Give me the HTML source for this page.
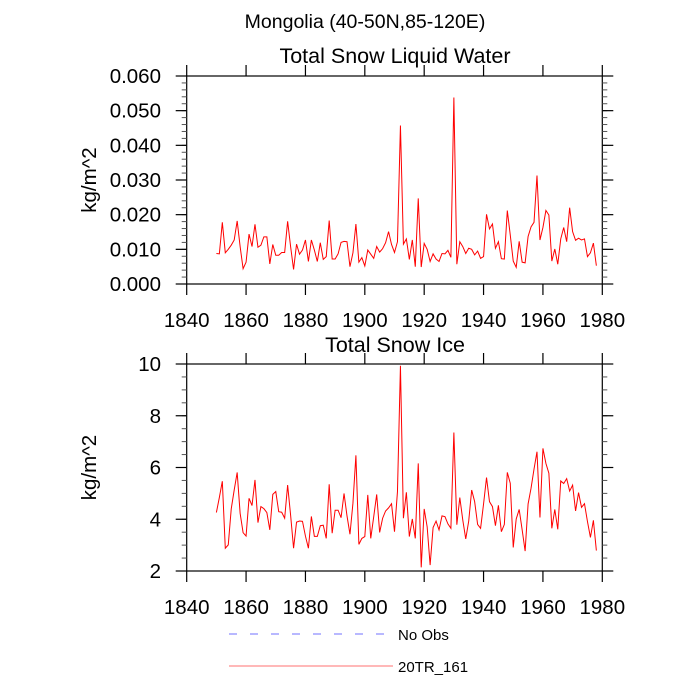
<!DOCTYPE html>
<html><head><meta charset="utf-8"><style>
html,body{margin:0;padding:0;background:#fff;}
svg{display:block;font-family:"Liberation Sans",sans-serif;}
</style></head><body>
<svg id="chart" width="700" height="700" viewBox="0 0 700 700">
<text x="365" y="28" font-size="19.5" text-anchor="middle">Mongolia (40-50N,85-120E)</text>
<text x="395" y="63" font-size="21.5" text-anchor="middle">Total Snow Liquid Water</text>
<text x="395" y="352" font-size="21.5" text-anchor="middle">Total Snow Ice</text>
<g>
<line x1="229" y1="634" x2="386" y2="634" stroke="#7070ff" stroke-width="1" stroke-dasharray="8,13"/>
<text x="398" y="640" font-size="15">No Obs</text>
<line x1="229" y1="666" x2="393" y2="666" stroke="#ff7070" stroke-width="1"/>
<text x="398" y="672" font-size="15">20TR_161</text>
</g>
</svg>
<script>
const years = [];
for (let y = 1850; y <= 1978; y++) years.push(y);
const liquidWater = [
.0088,.0087,.0178,.0090,.0100,.0112,.0127,.0182,.0108,.0044,.0063,.0144,.0108,.0172,.0106,.0112,.0136,.0136,.0058,.0114,.0083,.0083,.0091,.0091,.0181,.0108,.0042,.0115,.0086,.0098,.0127,.0065,.0127,.0098,.0065,.0119,.0071,.0079,.0183,.0072,.0072,.0087,.0120,.0123,.0122,.0050,.0090,.0173,.0063,.0076,.0052,.0098,.0086,.0074,.0108,.0092,.0102,.0119,.0151,.0114,.0091,.0122,
.0457,.0115,.0130,.0071,.0127,.0050,.0247,.0049,.0117,.0100,.0065,.0087,.0072,.0065,.0088,.0087,.0097,.0077,.0538,.0057,.0122,.0108,.0088,.0103,.0100,.0084,.0095,.0074,.0079,.0201,.0159,.0173,.0103,.0122,.0073,.0072,.0212,.0141,.0066,.0048,.0123,.0063,.0061,.0137,.0165,.0178,.0313,.0127,.0163,.0212,.0199,.0066,.0101,.0057,.0130,.0163,.0122,.0220,.0151,.0126,.0132,.0127,.0130,.0079,.0090,.0118,.0053];
const snowIce = [
4.26,4.84,5.47,2.88,3.01,4.40,5.13,5.81,4.23,3.48,3.35,4.81,4.53,5.52,3.87,4.49,4.41,4.26,3.59,4.96,5.07,4.29,4.27,4.04,5.32,4.16,2.88,3.89,3.93,3.92,3.35,2.88,4.11,3.34,3.34,3.75,3.77,3.26,5.35,3.46,4.35,4.35,4.06,5.00,4.13,3.42,4.62,6.47,3.03,3.26,3.33,4.94,3.26,4.10,4.96,3.49,4.04,4.32,4.44,4.60,3.52,5.07,
9.93,4.04,5.04,3.33,4.01,3.26,6.16,2.14,4.40,3.71,2.23,3.68,3.93,3.59,4.13,4.10,3.82,3.65,7.35,3.79,4.84,3.97,3.24,3.93,5.13,4.68,3.80,3.65,4.59,5.61,4.68,4.49,3.75,4.54,3.52,3.80,5.81,5.39,2.91,4.01,4.38,3.59,2.77,4.59,5.20,5.94,6.61,4.07,6.74,6.16,5.78,3.65,4.38,3.61,5.48,5.38,5.57,5.09,5.32,4.32,5.03,4.46,4.60,3.91,3.30,3.96,2.79];
const xTicks = [1840,1860,1880,1900,1920,1940,1960,1980];
const topYTicks = [0,0.01,0.02,0.03,0.04,0.05,0.06];
const topYLabels = ["0.000","0.010","0.020","0.030","0.040","0.050","0.060"];
const botYTicks = [2,4,6,8,10];
const botYLabels = ["2","4","6","8","10"];

const NS = "http://www.w3.org/2000/svg";
const svg = document.getElementById("chart");
function mk(tag, attrs, parent) {
  const e = document.createElementNS(NS, tag);
  for (const k in attrs) e.setAttribute(k, attrs[k]);
  (parent || svg).appendChild(e);
  return e;
}
const X0 = 186.7, X1 = 602.3;
function xs(yr) { return X0 + (yr - 1840) / 140 * (X1 - X0); }

function panel(name, top, bot, ymin, ymax, yticks, ylabels, minorStep, series) {
  const g = mk("g", {});
  
  
  const ys = v => bot - (v - ymin) / (ymax - ymin) * (bot - top);
  const frame = mk("rect", {x: X0, y: top, width: X1 - X0, height: bot - top, fill: "none", stroke: "#000", "stroke-width": 1.2}, g);
  
  
  for (let v = ymin; v <= ymax + 1e-9; v += minorStep) {
    const y = ys(v);
    mk("line", {x1: X0 - 5, y1: y, x2: X0, y2: y, stroke: "#555", "stroke-width": 1}, g);
    mk("line", {x1: X1, y1: y, x2: X1 + 5, y2: y, stroke: "#555", "stroke-width": 1}, g);
  }
  yticks.forEach((v, i) => {
    const y = ys(v);
    mk("line", {x1: X0 - 11, y1: y, x2: X0, y2: y, stroke: "#000", "stroke-width": 1.2}, g);
    mk("line", {x1: X1, y1: y, x2: X1 + 11, y2: y, stroke: "#000", "stroke-width": 1.2}, g);
    const t = mk("text", {x: 161, y: y + 7, "font-size": 20.5, "text-anchor": "end"}, g);
    t.textContent = ylabels[i];
    
    
  });
  xTicks.forEach(yr => {
    const x = xs(yr);
    mk("line", {x1: x, y1: top - 11, x2: x, y2: top, stroke: "#000", "stroke-width": 1.2}, g);
    mk("line", {x1: x, y1: bot, x2: x, y2: bot + 11, stroke: "#000", "stroke-width": 1.2}, g);
    const t = mk("text", {x: x, y: bot + 43, "font-size": 20.5, "text-anchor": "middle"}, g);
    t.textContent = yr;
    
    
  });
  const cy = (top + bot) / 2;
  const yt = mk("text", {x: 96, y: cy, "font-size": 20.5, "text-anchor": "middle", transform: "rotate(-90 96 " + cy + ")"}, g);
  yt.textContent = "kg/m^2";
  
  
  const pts = series.map((v, i) => xs(years[i]).toFixed(2) + "," + ys(v).toFixed(2)).join(" ");
  const pl = mk("polyline", {points: pts, fill: "none", stroke: "#ff0000", "stroke-width": 1}, g);
  
  
}
panel("liquid-water", 76, 284, 0, 0.06, topYTicks, topYLabels, 0.002, liquidWater);
panel("snow-ice", 364, 571, 2, 10, botYTicks, botYLabels, 0.5, snowIce);
</script>
</body></html>
